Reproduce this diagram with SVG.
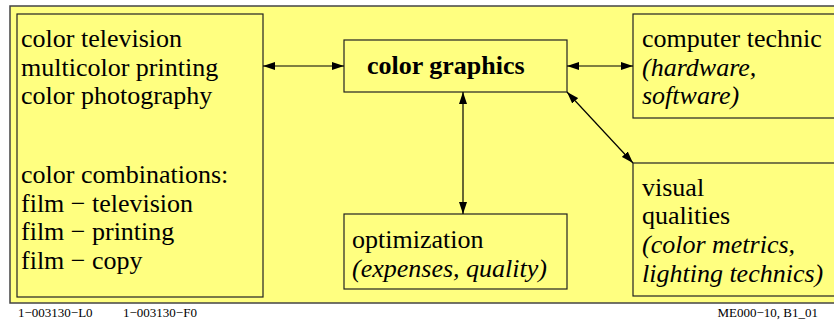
<svg xmlns="http://www.w3.org/2000/svg" width="834" height="322" viewBox="0 0 834 322">
<style>
.bg{fill:#ffff80;stroke:#444;stroke-width:1.5}
.box{fill:#ffff80;stroke:#222;stroke-width:1.2}
.t{font-family:"Liberation Serif","Times New Roman",serif;font-size:26px;fill:#000}
.i{font-style:italic}
.b{font-weight:bold}
.f{font-family:"Liberation Serif","Times New Roman",serif;font-size:13px;fill:#000}
.c{stroke:#000;stroke-width:1.2;fill:none;marker-start:url(#ah);marker-end:url(#ah)}
</style>
<defs>
<marker id="ah" viewBox="0 0 12 8" refX="12" refY="4" markerWidth="12" markerHeight="8" markerUnits="userSpaceOnUse" orient="auto-start-reverse">
<path d="M0,0 L12,4 L0,8 Z" fill="#000"/>
</marker>
</defs>
<rect class="bg" x="10" y="6" width="840" height="297"/>
<g id="media">
<rect class="box" x="17" y="14" width="246" height="283"/>
<text class="t" x="21" y="47">color television</text>
<text class="t" x="21" y="76">multicolor printing</text>
<text class="t" x="21" y="104">color photography</text>
<text class="t" x="21" y="183">color combinations:</text>
<text class="t" x="21" y="212">film − television</text>
<text class="t" x="21" y="240">film − printing</text>
<text class="t" x="21" y="269">film − copy</text>
</g>
<g id="graphics">
<rect class="box" x="344" y="40" width="223" height="52"/>
<text class="t b" x="367" y="74">color graphics</text>
</g>
<g id="computer">
<rect class="box" x="633" y="14" width="220" height="104"/>
<text class="t" x="642" y="47">computer technic</text>
<text class="t i" x="642" y="76">(hardware,</text>
<text class="t i" x="642" y="104">software)</text>
</g>
<g id="visual">
<rect class="box" x="633" y="163" width="220" height="133"/>
<text class="t" x="642" y="196">visual</text>
<text class="t" x="642" y="224">qualities</text>
<text class="t i" x="642" y="253">(color metrics,</text>
<text class="t i" x="642" y="282">lighting technics)</text>
</g>
<g id="optimization">
<rect class="box" x="344" y="214" width="223" height="75"/>
<text class="t" x="352" y="248">optimization</text>
<text class="t i" x="352" y="277">(expenses, quality)</text>
</g>
<g id="connectors">
<line class="c" x1="263" y1="66" x2="344" y2="66"/>
<line class="c" x1="567" y1="66" x2="633" y2="66"/>
<line class="c" x1="463" y1="92" x2="463" y2="214"/>
<line class="c" x1="567" y1="92" x2="633" y2="163"/>
</g>
<g id="footer">
<text class="f" x="18" y="317">1−003130−L0</text>
<text class="f" x="123" y="317">1−003130−F0</text>
<text class="f" x="818" y="317" text-anchor="end">ME000−10, B1_01</text>
</g>
</svg>
